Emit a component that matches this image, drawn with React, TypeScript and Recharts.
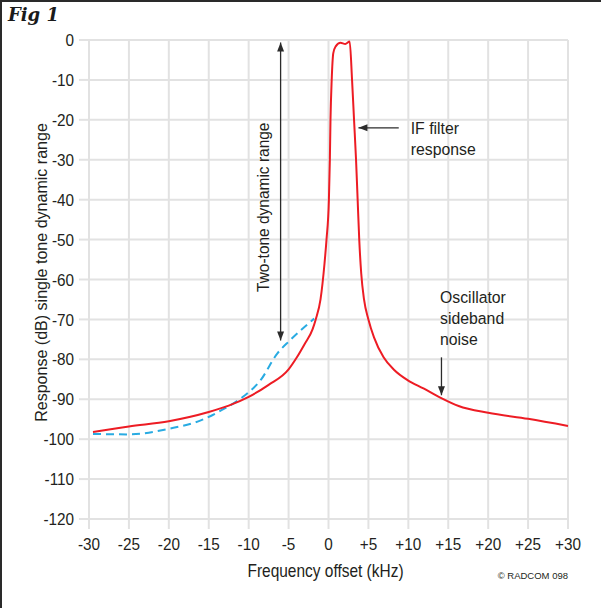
import React from "react";
import {
  LineChart,
  Line,
  XAxis,
  YAxis,
  CartesianGrid,
  ReferenceLine,
  ReferenceDot,
} from "recharts";

// ---- data ----
const redFreq = [
  -29.5, -25, -20, -15, -12.5, -10, -7.5, -5, -4, -3, -2, -1.6, -1, -0.5, -0.25,
  0.05, 0.17, 0.25, 0.4, 0.6, 0.9, 1.5, 2.1, 2.65, 2.95, 3.2, 3.45, 3.65, 3.85,
  4.1, 4.45, 5.0, 5.7, 6.9, 8.2, 9.9, 11.9, 14, 16.3, 20, 25, 30,
];
const redDb = [
  -98.2, -96.8, -95.5, -93.2, -91.6, -89.4, -86.4, -82.5, -79.6, -76.2, -72.5,
  -70, -65, -56, -50, -40, -30, -20, -10, -3.3, -1.6, -0.7, -1.0, -0.4, -10,
  -20, -30, -40, -50, -58.5, -65, -70, -74.5, -79.5, -82.6, -85.2, -87.3,
  -89.6, -91.7, -93.4, -94.9, -96.7,
];
const blueFreq = [-29.5, -25, -20, -16, -13, -11, -8.5, -6.4, -4.8, -1.8];
const blueDb = [-98.7, -98.8, -97.4, -95.3, -92.3, -89.8, -85.2, -78.5, -75.2, -69.8];

const xTicks = [-30, -25, -20, -15, -10, -5, 0, 5, 10, 15, 20, 25, 30];
const xTickLabels = ["-30", "-25", "-20", "-15", "-10", "-5", "0", "+5", "+10", "+15", "+20", "+25", "+30"];
const yTicks = [0, -10, -20, -30, -40, -50, -60, -70, -80, -90, -100, -110, -120];
const yTickLabels = ["0", "-10", "-20", "-30", "-40", "-50", "-60", "-70", "-80", "-90", "-100", "-110", "-120"];

const redData = redFreq.map((x, i) => ({ x, y: redDb[i] }));
const blueData = blueFreq.map((x, i) => ({ x, y: blueDb[i] }));

const FONT = "'Liberation Sans', Arial, sans-serif";
const TEXT = "#231f20";
const GRID = "#e2e2e2";
const ARROW = "#2b2b2b";

type CTextProps = {
  x: number;
  y: number;
  size: number;
  sx: number;
  anchor?: string;
  rotate?: number;
  dy?: string;
  children: React.ReactNode;
};

const CText = ({ x, y, size, sx, anchor = "start", rotate = 0, dy = "0", children }: CTextProps) => (
  <text
    transform={`translate(${x} ${y}) rotate(${rotate}) scale(${sx} 1)`}
    x={0}
    y={0}
    dy={dy}
    textAnchor={anchor as any}
    fontFamily={FONT}
    fontSize={size}
    fill={TEXT}
  >
    {children}
  </text>
);

const XTick = (p: any) => (
  <CText x={p.x} y={p.y} size={17} sx={0.9} anchor="middle" dy="0.71em">
    {xTickLabels[xTicks.indexOf(p.payload.value)]}
  </CText>
);

const YTick = (p: any) => (
  <CText x={p.x} y={p.y} size={17} sx={0.9} anchor="end" dy="0.36em">
    {yTickLabels[yTicks.indexOf(p.payload.value)]}
  </CText>
);

const arrowHead = (tx: number, ty: number, dx: number, dy: number) => {
  const len = Math.hypot(dx, dy) || 1;
  const ux = dx / len;
  const uy = dy / len;
  const L = 9;
  const W = 3.5;
  const bx = tx - ux * L;
  const by = ty - uy * L;
  return `${tx},${ty} ${bx - uy * W},${by + ux * W} ${bx + uy * W},${by - ux * W}`;
};

const makeArrow = (both: boolean) => (p: any) => {
  const { x1, y1, x2, y2 } = p;
  const dx = x2 - x1;
  const dy = y2 - y1;
  return (
    <g>
      <line x1={x1} y1={y1} x2={x2} y2={y2} stroke={ARROW} strokeWidth={1.3} />
      <polygon points={arrowHead(x2, y2, dx, dy)} fill={ARROW} />
      {both && <polygon points={arrowHead(x1, y1, -dx, -dy)} fill={ARROW} />}
    </g>
  );
};

const rotatedLabel = (text: string, sx: number) => (p: any) => (
  <CText x={p.cx} y={p.cy} size={17} sx={sx} anchor="middle" rotate={-90} dy="0.35em">
    {text}
  </CText>
);

const blockLabel = (lines: string[]) => (p: any) => (
  <g>
    {lines.map((l, i) => (
      <CText key={i} x={p.cx} y={p.cy + i * 21} size={17} sx={0.93} anchor="start" dy="0.35em">
        {l}
      </CText>
    ))}
  </g>
);

export default function App() {
  return (
    <div style={{ position: "absolute", left: 0, top: 0, width: 601, height: 608, background: "#fff" }}>
      <LineChart width={601} height={608} margin={{ top: 40, right: 33, bottom: 29, left: 0 }}>
        <CartesianGrid stroke={GRID} strokeWidth={2} />
        <XAxis
          dataKey="x"
          type="number"
          domain={[-30, 30]}
          ticks={xTicks}
          allowDuplicatedCategory={false}
          height={60}
          tickSize={10}
          tickMargin={9}
          axisLine={{ stroke: GRID, strokeWidth: 2 }}
          tickLine={{ stroke: GRID, strokeWidth: 2 }}
          tick={XTick}
          label={{
            content: (props: any) => {
              const vb = props.viewBox || {};
              return (
                <CText x={vb.x + vb.width / 2 - 3} y={vb.y + 58} size={18} sx={0.86} anchor="middle">
                  Frequency offset (kHz)
                </CText>
              );
            },
          }}
        />
        <YAxis
          dataKey="y"
          type="number"
          domain={[-120, 0]}
          ticks={yTicks}
          width={89}
          tickSize={10}
          tickMargin={5}
          axisLine={{ stroke: GRID, strokeWidth: 2 }}
          tickLine={{ stroke: GRID, strokeWidth: 2 }}
          tick={YTick}
          label={{
            content: (props: any) => {
              const vb = props.viewBox || {};
              return (
                <CText
                  x={vb.x + 41}
                  y={vb.y + vb.height / 2 - 7}
                  size={17}
                  sx={0.945}
                  anchor="middle"
                  rotate={-90}
                  dy="0.35em"
                >
                  Response (dB) single tone dynamic range
                </CText>
              );
            },
          }}
        />
        <Line
          data={blueData}
          dataKey="y"
          type="monotone"
          stroke="#29abe2"
          strokeWidth={2}
          strokeDasharray="8 5"
          dot={false}
          isAnimationActive={false}
        />
        <Line
          data={redData}
          dataKey="y"
          type="monotone"
          stroke="#ed1c24"
          strokeWidth={2}
          dot={false}
          isAnimationActive={false}
        />
        <ReferenceLine segment={[{ x: -6, y: -0.6 }, { x: -6, y: -75.3 }]} shape={makeArrow(true)} />
        <ReferenceLine segment={[{ x: 8.8, y: -22 }, { x: 3.75, y: -22 }]} shape={makeArrow(false)} />
        <ReferenceLine segment={[{ x: 14.15, y: -79.5 }, { x: 14.15, y: -89 }]} shape={makeArrow(false)} />
        <ReferenceDot x={-8.15} y={-41.9} r={0} shape={rotatedLabel("Two-tone dynamic range", 0.91)} />
        <ReferenceDot x={10.3} y={-22} r={0} shape={blockLabel(["IF filter", "response"])} />
        <ReferenceDot x={13.97} y={-64.3} r={0} shape={blockLabel(["Oscillator", "sideband", "noise"])} />
      </LineChart>
      <div
        style={{
          position: "absolute",
          left: 8,
          top: 4,
          fontFamily: "'DejaVu Serif', 'Liberation Serif', serif",
          fontWeight: "bold",
          fontStyle: "italic",
          fontSize: 18,
          color: "#1a1a1a",
          lineHeight: "22px",
        }}
      >
        Fig 1
      </div>
      <div
        style={{
          position: "absolute",
          right: 33,
          top: 570,
          fontFamily: FONT,
          fontSize: 9.5,
          color: TEXT,
          lineHeight: "11px",
        }}
      >
        © RADCOM 098
      </div>
      <div style={{ position: "absolute", left: 0, top: 0, width: 601, height: 2, background: "#2a2a2a" }} />
      <div style={{ position: "absolute", left: 0, top: 0, width: 2, height: 608, background: "#2a2a2a" }} />
    </div>
  );
}
